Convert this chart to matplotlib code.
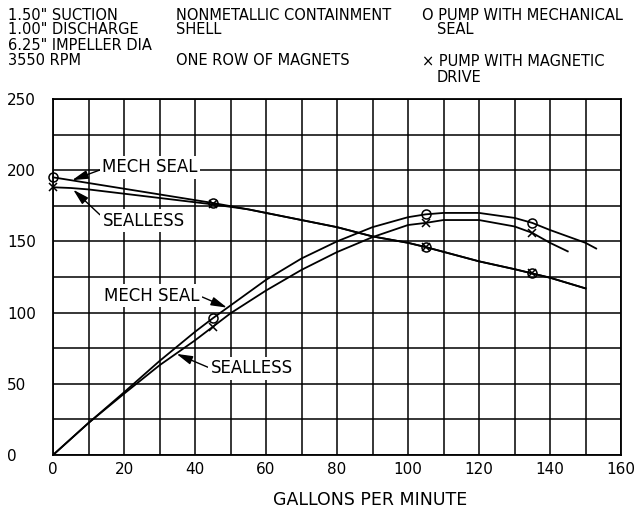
import matplotlib
matplotlib.use("Agg")
import matplotlib.pyplot as plt
from matplotlib.ticker import MultipleLocator

plt.rcParams['font.family'] = ['DejaVu Sans']

# ---- data ----
head_mech_x = [0, 10, 20, 30, 45, 55, 70, 80, 90, 100, 105, 120, 130, 135, 140, 150]
head_mech_y = [195, 191, 187, 183, 177, 172.5, 165, 160, 153.5, 149, 146, 136, 130.5, 127.5, 124.5, 117]
head_mech_marks = [0, 4, 10, 13]

head_sealless_x = [0, 5, 10, 20, 30, 45, 55, 70, 80, 90, 100, 105, 120, 130, 135, 140, 150]
head_sealless_y = [188, 187.5, 186.5, 183.5, 180.5, 176, 172.5, 165, 160, 153.5, 149, 146, 136, 130.5, 127.5, 124.5, 117]
head_sealless_marks = [0, 5, 11, 14]

rise_mech_x = [0, 10, 20, 30, 40, 45, 50, 60, 70, 80, 90, 100, 105, 110, 120, 130, 135, 140, 150, 153]
rise_mech_y = [0, 22.5, 44, 66, 86.5, 96, 105, 123, 138, 150, 160, 167, 169, 170, 170, 166.5, 163, 158, 149, 145]
rise_mech_marks = [5, 12, 16]

rise_sealless_x = [0, 10, 20, 30, 40, 45, 50, 60, 70, 80, 90, 100, 105, 110, 120, 130, 135, 140, 145]
rise_sealless_y = [0, 22.5, 43, 63, 80.5, 90, 99.5, 115.5, 130, 142.5, 153, 161.5, 163, 165, 165, 160.5, 156, 149, 143]
rise_sealless_marks = [5, 12, 16]

x_ticks = [0, 20, 40, 60, 80, 100, 120, 140, 160]
y_ticks = [0, 50, 100, 150, 200, 250]

header_col1 = ['1.50" SUCTION', '1.00" DISCHARGE', '6.25" IMPELLER DIA', '3550 RPM']
header_col2 = ['NONMETALLIC CONTAINMENT', 'SHELL', 'ONE ROW OF MAGNETS']

# ---- figure ----
W, H = 642, 514
fig = plt.figure(figsize=(W / 100, H / 100), dpi=100)
ax = fig.add_axes([53 / W, (H - 455) / H, 568 / W, 356 / H])

ax.set_xlim(0, 160)
ax.set_ylim(0, 250)
ax.xaxis.set_major_locator(MultipleLocator(10))
ax.yaxis.set_major_locator(MultipleLocator(25))
ax.grid(True, which='major', color='black', lw=1.1)
ax.set_axisbelow(True)
for s in ax.spines.values():
    s.set_linewidth(1.3)
    s.set_color('black')

ax.set_xticks(x_ticks)
ax.set_xticks(range(0, 161, 10), minor=True)
ax.set_yticks(y_ticks)
ax.set_yticks(range(0, 251, 25), minor=True)
ax.grid(True, which='minor', color='black', lw=1.1)
ax.tick_params(which='both', length=0)
ax.tick_params(axis='x', labelsize=11, pad=5)
ax.tick_params(axis='y', labelsize=11, pad=33)
for lbl in ax.get_yticklabels():
    lbl.set_horizontalalignment('left')

lw = 1.3
ax.plot(head_mech_x, head_mech_y, color='black', lw=lw, marker='o', ms=6.5,
        mfc='none', mec='black', mew=1.1, markevery=head_mech_marks, clip_on=False, zorder=3)
ax.plot(head_sealless_x, head_sealless_y, color='black', lw=lw, marker='x', ms=6,
        mec='black', mew=1.1, markevery=head_sealless_marks, clip_on=False, zorder=3)
ax.plot(rise_mech_x, rise_mech_y, color='black', lw=lw, marker='o', ms=6.5,
        mfc='none', mec='black', mew=1.1, markevery=rise_mech_marks, zorder=3)
ax.plot(rise_sealless_x, rise_sealless_y, color='black', lw=lw, marker='x', ms=6,
        mec='black', mew=1.1, markevery=rise_sealless_marks, zorder=3)

bbox = dict(boxstyle='square,pad=0.15', fc='white', ec='none')
arrow = dict(arrowstyle='-|>,head_length=0.8,head_width=0.22', color='black', lw=1.0,
             shrinkA=0, shrinkB=0)

def note(text, xy, xytext, relpos):
    ap = dict(arrow)
    ap['relpos'] = relpos
    ax.annotate(text, xy=xy, xytext=xytext, fontsize=12, ha='center', va='center',
                bbox=bbox, arrowprops=ap, zorder=5)

note('MECH SEAL', (5.4, 193), (27.3, 202), (0, 0.4))
note('SEALLESS', (5.7, 186.3), (25.5, 164.5), (0, 0.7))
note('MECH SEAL', (49, 103.5), (27.9, 111.7), (1, 0.5))
note('SEALLESS', (34.8, 71), (55.9, 60.9), (0, 0.5))

fig.text(370 / W, 1 - 500 / H, 'GALLONS PER MINUTE', fontsize=12.5, ha='center', va='center')

hs = 10.5
ys = [15, 30, 45, 60.5]
for t, y in zip(header_col1, ys):
    fig.text(8 / W, 1 - y / H, t, fontsize=hs, ha='left', va='center')
for t, y in zip(header_col2, [15, 30, 60.5]):
    fig.text(176 / W, 1 - y / H, t, fontsize=hs, ha='left', va='center')
fig.text(422 / W, 1 - 15 / H, 'O PUMP WITH MECHANICAL', fontsize=hs, ha='left', va='center')
fig.text(437 / W, 1 - 30 / H, 'SEAL', fontsize=hs, ha='left', va='center')
fig.text(422 / W, 1 - 61.5 / H, '\u00d7 PUMP WITH MAGNETIC', fontsize=hs, ha='left', va='center')
fig.text(437 / W, 1 - 77.5 / H, 'DRIVE', fontsize=hs, ha='left', va='center')

fig.savefig('out.png', dpi=100, facecolor='white')
